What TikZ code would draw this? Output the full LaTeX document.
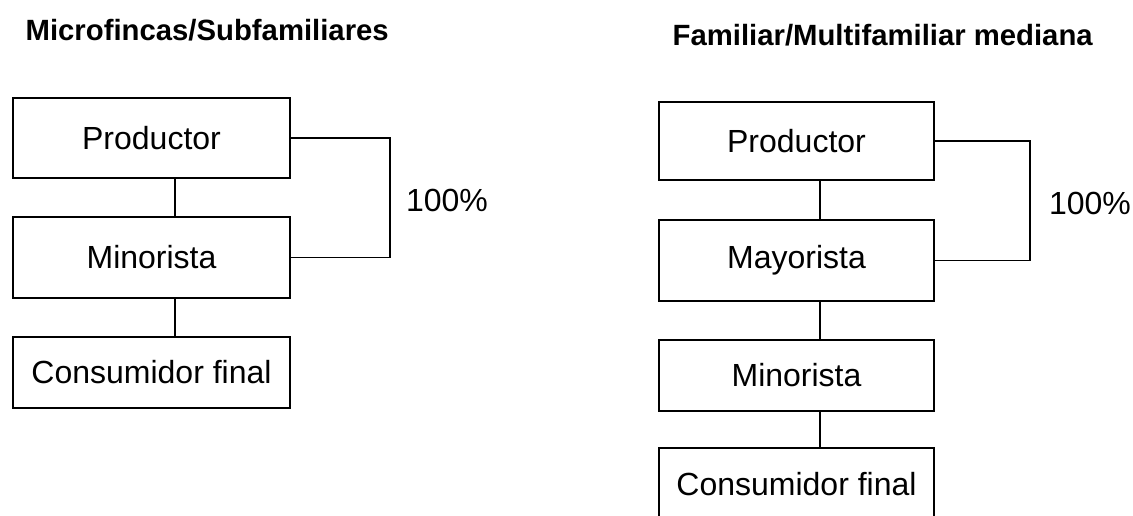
\documentclass[tikz,border=0pt]{standalone}
\usepackage{fontspec}
\setmainfont{Liberation Sans}
\begin{document}
\begin{tikzpicture}[x=1pt,y=-1pt,line width=1.3pt,
  box/.style={draw,rectangle,inner sep=0pt,minimum width=277pt,font=\fontsize{32}{36}\selectfont},
  title/.style={anchor=base west,inner sep=0pt,font=\fontsize{29.3}{33}\selectfont\bfseries},
  pct/.style={anchor=center,inner sep=0pt,font=\fontsize{32}{36}\selectfont}]
\useasboundingbox (0,0) rectangle (1133,515);
\clip (0,0) rectangle (1133,515);
% titles
\node[title] (t1) at (25,40) {Microfincas/Subfamiliares};
\node[title] (t2) at (672,45) {Familiar/Multifamiliar mediana};
% left chain
\node[box,minimum height=80pt] (lp) at (151.5,138) {Productor};
\node[box,minimum height=81pt] (lm) at (151.5,257.5) {Minorista};
\node[box,minimum height=71pt] (lc) at (151.5,372.5) {Consumidor final};
\coordinate (lx) at (175,0);
\draw (lp.south -| lx) -- (lm.north -| lx);
\draw (lm.south -| lx) -- (lc.north -| lx);
\coordinate (lb) at (390,0);
\draw (lp.east) -- (lp.east -| lb) -- (lm.east -| lb) -- (lm.east);
\node[pct] (l100) at (447,200) {100\%};
% right chain
\node[box,minimum width=275pt,minimum height=78pt] (rp) at (796.5,141) {Productor};
\node[box,minimum width=275pt,minimum height=81pt] (ry) at (796.5,260.5) {Mayorista};
\node[box,minimum width=275pt,minimum height=71pt] (rm) at (796.5,375.5) {Minorista};
\node[box,minimum width=275pt,minimum height=72pt] (rc) at (796.5,484) {Consumidor final};
\coordinate (rx) at (820,0);
\draw (rp.south -| rx) -- (ry.north -| rx);
\draw (ry.south -| rx) -- (rm.north -| rx);
\draw (rm.south -| rx) -- (rc.north -| rx);
\coordinate (rb) at (1030,0);
\draw (rp.east) -- (rp.east -| rb) -- (ry.east -| rb) -- (ry.east);
\node[pct] (r100) at (1090,203) {100\%};
\end{tikzpicture}
\end{document}
